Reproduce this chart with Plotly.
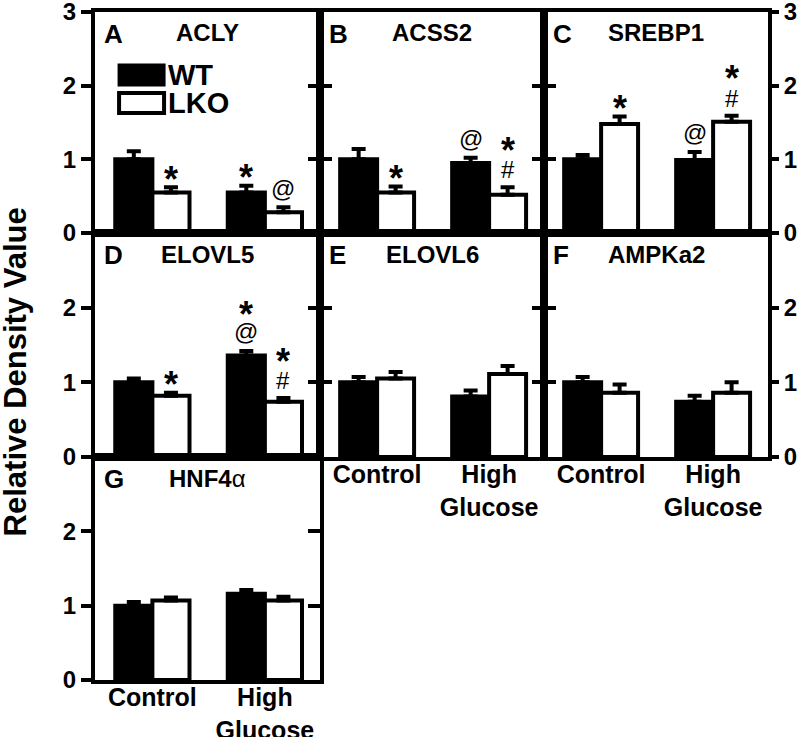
import plotly.graph_objects as go

# ---------------- data ----------------
categories = ["Control", "High<br>Glucose"]
panel_letters = ["A", "B", "C", "D", "E", "F", "G"]
gene_titles = ["ACLY", "ACSS2", "SREBP1", "ELOVL5", "ELOVL6", "AMPKa2",
               "HNF4<span style='font-weight:normal'>α</span>"]

wt_mean = [[1.00, 0.55], [1.00, 0.95], [1.00, 0.99], [1.00, 1.36], [1.00, 0.81], [1.00, 0.74], [1.00, 1.16]]
wt_sem = [[0.11, 0.09], [0.14, 0.07], [0.06, 0.11], [0.05, 0.06], [0.07, 0.08], [0.07, 0.08], [0.05, 0.05]]
lko_mean = [[0.55, 0.28], [0.55, 0.52], [1.48, 1.51], [0.82, 0.74], [1.05, 1.11], [0.86, 0.86], [1.07, 1.07]]
lko_sem = [[0.07, 0.07], [0.08, 0.10], [0.10, 0.08], [0.04, 0.05], [0.09, 0.11], [0.11, 0.14], [0.04, 0.05]]

# significance symbols, listed bottom to top
wt_marks = [[[], ["*"]], [[], ["@"]], [[], ["@"]], [[], ["@", "*"]], [[], []], [[], []], [[], []]]
lko_marks = [[["*"], ["@"]], [["*"], ["#", "*"]], [["*"], ["#", "*"]], [["*"], ["#", "*"]], [[], []], [[], []], [[], []]]

y_ticks = [0, 1, 2, 3]
series_names = ["WT", "LKO"]

# ---------------- layout geometry ----------------
W, H = 800, 737
col_px = [(95, 320), (320, 544), (544, 768)]
row_px = [(12, 233), (233, 457), (457, 680)]
grid = [(0, 0), (0, 1), (0, 2), (1, 0), (1, 1), (1, 2), (2, 0)]
bottom_panels = {4, 5, 6}

FONT = "Liberation Sans, Arial, Helvetica, sans-serif"
BARGAP = 0.34
bar_w = (1 - BARGAP) / 2
LW = 4

fig = go.Figure()
layout = dict(
    width=W, height=H, margin=dict(l=0, r=0, t=0, b=0, autoexpand=False),
    paper_bgcolor="white", plot_bgcolor="white",
    barmode="group", bargap=BARGAP, bargroupgap=0, showlegend=False,
    font=dict(family=FONT, color="black"),
)
annotations = []
shapes = []

glyph = {"*": dict(size=36, weight="bold", h=14, off=8.0),
         "@": dict(size=24, weight="normal", h=16, off=-2.0),
         "#": dict(size=24, weight="normal", h=17, off=0.0)}

tickfont = dict(family=FONT, size=24, weight="bold", color="black")

for k in range(7):
    r, c = grid[k]
    n = k + 1
    xs = "" if n == 1 else str(n)
    xa, ya = "x" + xs, "y" + xs
    yr = "y" + str(7 + n)
    x0, x1 = col_px[c]
    yt, yb = row_px[r]
    xdom = [x0 / W, x1 / W]
    ydom = [(H - yb) / H, (H - yt) / H]

    fig.add_trace(go.Bar(
        x=categories, y=wt_mean[k], name=series_names[0], xaxis=xa, yaxis=ya,
        marker=dict(color="black", line=dict(color="black", width=LW)),
        error_y=dict(type="data", array=wt_sem[k], arrayminus=[0, 0], symmetric=False,
                     color="black", thickness=LW, width=7),
    ))
    fig.add_trace(go.Bar(
        x=categories, y=lko_mean[k], name=series_names[1], xaxis=xa, yaxis=ya,
        marker=dict(color="white", line=dict(color="black", width=LW)),
        error_y=dict(type="data", array=lko_sem[k], arrayminus=[0, 0], symmetric=False,
                     color="black", thickness=LW, width=7),
    ))
    # empty trace so the right-hand tick axis of the panel is drawn
    fig.add_trace(go.Scatter(x=categories, y=[None, None], xaxis=xa, yaxis=yr,
                             mode="markers", hoverinfo="skip", showlegend=False))

    layout["xaxis" + xs] = dict(
        domain=xdom, anchor=ya, type="category", range=[-0.51, 1.49],
        showline=True, mirror=True, linewidth=LW, linecolor="black",
        ticks="", showgrid=False, zeroline=False, automargin=False,
        showticklabels=(k in bottom_panels), ticklabelstandoff=-8, ticklabeloverflow="allow",
        tickfont=dict(family=FONT, size=25, weight="bold", color="black"),
        fixedrange=True,
    )
    ticktext = [str(v) for v in y_ticks] if r == 0 else [str(v) for v in y_ticks[:-1]] + [""]
    left_outer = (c == 0)
    layout["yaxis" + xs] = dict(
        domain=ydom, anchor=xa, range=[0, 3], side="left",
        showline=True, mirror=True, linewidth=LW, linecolor="black",
        tickvals=y_ticks, ticktext=ticktext,
        ticks="outside" if left_outer else "inside", ticklen=10 if left_outer else 12,
        tickwidth=LW, tickcolor="black", ticklabeloverflow="allow",
        showticklabels=left_outer, tickfont=tickfont,
        showgrid=False, zeroline=False, fixedrange=True, automargin=False,
    )
    right_outer = (c == 2)
    layout["yaxis" + str(7 + n)] = dict(
        overlaying=ya, anchor=xa, range=[0, 3], side="right",
        showline=False, tickvals=y_ticks, ticktext=ticktext,
        ticks="outside" if right_outer else "inside", ticklen=10 if right_outer else 12,
        tickwidth=LW, tickcolor="black", ticklabeloverflow="allow",
        showticklabels=right_outer, tickfont=tickfont,
        showgrid=False, zeroline=False, fixedrange=True, automargin=False,
    )

    # panel letter and title
    annotations.append(dict(text=panel_letters[k], xref=xa + " domain", yref=ya + " domain",
                            x=0.03, y=0.9, xanchor="left", yanchor="middle", showarrow=False,
                            font=dict(family=FONT, size=26, weight="bold", color="black")))
    annotations.append(dict(text=gene_titles[k], xref=xa + " domain", yref=ya + " domain",
                            x=0.5, y=0.905, xanchor="center", yanchor="middle", showarrow=False,
                            font=dict(family=FONT, size=24, weight="bold", color="black")))

    # significance symbols
    for marks, means, sems, off in ((wt_marks[k], wt_mean[k], wt_sem[k], -bar_w / 2),
                                    (lko_marks[k], lko_mean[k], lko_sem[k], bar_w / 2)):
        for ci in range(len(categories)):
            cur = 9
            for sym in marks[ci]:
                g = glyph[sym]
                center = cur + g["h"] / 2
                annotations.append(dict(
                    text=sym, xref=xa, yref=ya, x=ci + off, y=means[ci] + sems[ci],
                    xanchor="center", yanchor="middle", yshift=center - g["off"], showarrow=False,
                    font=dict(family=FONT, size=g["size"], weight=g["weight"], color="black")))
                cur += g["h"] + 12

# legend in panel A (drawn as keys inside the panel)
shapes.append(dict(type="rect", xref="x domain", yref="y domain", x0=0.107, x1=0.307, y0=0.67, y1=0.76,
                   fillcolor="black", line=dict(color="black", width=3)))
shapes.append(dict(type="rect", xref="x domain", yref="y domain", x0=0.107, x1=0.307, y0=0.543, y1=0.633,
                   fillcolor="white", line=dict(color="black", width=4)))
annotations.append(dict(text=series_names[0], xref="x domain", yref="y domain", x=0.315, y=0.715,
                        xanchor="left", yanchor="middle", showarrow=False,
                        font=dict(family=FONT, size=29, weight="bold", color="black")))
annotations.append(dict(text=series_names[1], xref="x domain", yref="y domain", x=0.315, y=0.588,
                        xanchor="left", yanchor="middle", showarrow=False,
                        font=dict(family=FONT, size=29, weight="bold", color="black")))

# shared y-axis title
annotations.append(dict(text="Relative Density Value", xref="paper", yref="paper", x=0.019, y=0.495,
                        textangle=-90, xanchor="center", yanchor="middle", showarrow=False,
                        font=dict(family=FONT, size=31, weight="bold", color="black")))

layout["annotations"] = annotations
layout["shapes"] = shapes
fig.update_layout(**layout)
fig.write_html("out.html", config={"displayModeBar": False},
               post_script="document.body.style.margin='0';document.body.style.overflow='hidden';")
